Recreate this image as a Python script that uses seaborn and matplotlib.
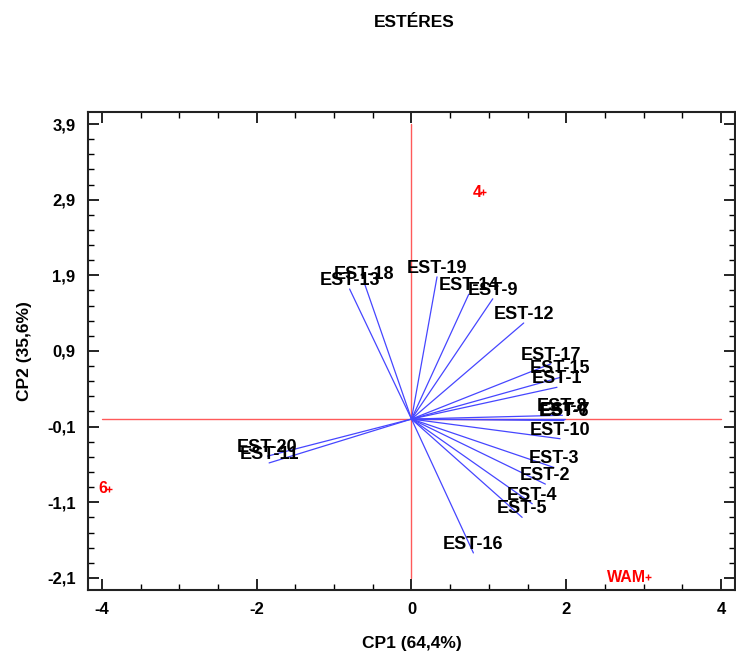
import numpy as np
import pandas as pd
import matplotlib
matplotlib.use("Agg")
import matplotlib.pyplot as plt
import seaborn as sns

# loadings (vectors from the origin)
est_names = ["EST-1", "EST-2", "EST-3", "EST-4", "EST-5", "EST-6", "EST-7", "EST-8",
             "EST-9", "EST-10", "EST-11", "EST-12", "EST-13", "EST-14", "EST-15",
             "EST-16", "EST-17", "EST-18", "EST-19", "EST-20"]
cp1_load = [1.88, 1.73, 1.84, 1.56, 1.43, 1.97, 1.98, 1.95,
            1.05, 1.92, -1.84, 1.45, -0.80, 0.74, 1.92,
            0.80, 1.80, -0.61, 0.33, -1.86]
cp2_load = [0.42, -0.86, -0.64, -1.12, -1.30, -0.02, 0.00, 0.05,
            1.59, -0.26, -0.58, 1.27, 1.72, 1.65, 0.55,
            -1.77, 0.73, 1.80, 1.88, -0.49]

# observations (scores)
obs_names = ["4", "6", "WAM"]
cp1_score = [0.92, -3.91, 3.05]
cp2_score = [3.00, -0.92, -2.09]

x_ticks = [-4, -2, 0, 2, 4]
y_ticks = [3.9, 2.9, 1.9, 0.9, -0.1, -1.1, -2.1]

load_df = pd.DataFrame({"name": est_names, "CP1": cp1_load, "CP2": cp2_load})
obs_df = pd.DataFrame({"name": obs_names, "CP1": cp1_score, "CP2": cp2_score})

sns.set_style("ticks")
plt.rcParams["font.family"] = ["Liberation Sans", "DejaVu Sans"]
plt.rcParams["font.weight"] = "bold"
plt.rcParams["text.color"] = "black"
plt.rcParams["axes.labelcolor"] = "black"
plt.rcParams["xtick.color"] = "black"
plt.rcParams["ytick.color"] = "black"

fig = plt.figure(figsize=(7.36, 6.53), dpi=100)
ax = fig.add_axes([0.1196, 0.0965, 0.879, 0.732])

# reference cross
ax.plot([-4, 4], [0, 0], color="#ff5a5a", lw=1.0, zorder=1)
ax.plot([0, 0], [-2.1, 3.9], color="#ff5a5a", lw=1.0, zorder=1)

# loading vectors + labels
for _, r in load_df.iterrows():
    ax.plot([0, r["CP1"]], [0, r["CP2"]], color="#4646ff", lw=0.9, zorder=2)
    ax.annotate(r["name"], (r["CP1"], r["CP2"]), xytext=(0, 3), textcoords="offset points",
                ha="center", va="baseline", fontsize=13, fontweight="bold", color="black", zorder=3)

# observation points
sns.scatterplot(data=obs_df, x="CP1", y="CP2", marker="+", color="red", s=18,
                linewidth=1.0, ax=ax, zorder=4, legend=False)
for _, r in obs_df.iterrows():
    ax.annotate(r["name"], (r["CP1"], r["CP2"]), xytext=(-1, 0), textcoords="offset points",
                ha="right", va="center", fontsize=11.5, fontweight="bold", color="red")

ax.set_xlim(-4.18, 4.18)
ax.set_ylim(-2.26, 4.06)
ax.set_xticks(x_ticks)
ax.set_xticklabels([str(t) for t in x_ticks])
ax.set_yticks(y_ticks)
ax.set_yticklabels([f"{t:.1f}".replace(".", ",") for t in y_ticks])
ax.set_xticks(np.arange(-4, 4.01, 0.5), minor=True)
ax.set_yticks(np.arange(-2.1, 3.91, 0.2), minor=True)
ax.tick_params(axis="both", which="major", direction="in", length=8, width=1.2,
               top=True, right=True, labelsize=12, pad=9)
ax.tick_params(axis="both", which="minor", direction="in", length=4, width=1.0,
               top=True, right=True)
for lab in ax.get_xticklabels() + ax.get_yticklabels():
    lab.set_fontweight("bold")
for s in ax.spines.values():
    s.set_color("#222222")
    s.set_linewidth(1.5)

ax.set_xlabel("CP1 (64,4%)", fontsize=12.5, fontweight="bold", labelpad=13)
ax.set_ylabel("CP2 (35,6%)", fontsize=12.5, fontweight="bold", labelpad=11)
fig.text(0.563, 0.965, "ESTÉRES", ha="center", va="center", fontsize=12.5, fontweight="bold")

fig.savefig("out.png", dpi=100)
